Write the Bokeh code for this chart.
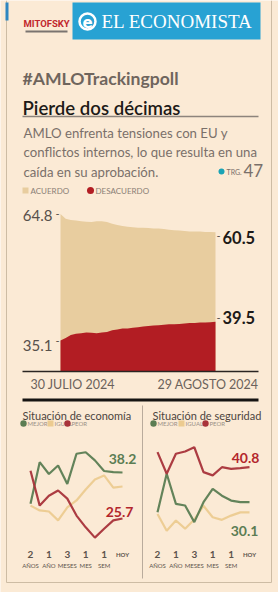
import pandas as pd
from bokeh.plotting import figure
from bokeh.models import Range1d, ColumnDataSource
from bokeh.core.properties import value
from bokeh.embed import file_html
from bokeh.resources import INLINE

# ---------------- data ----------------
DATES = pd.date_range("2024-07-30", "2024-08-29", freq="D")
ACUERDO = [64.8, 63.7, 63.4, 63.3, 63.1, 63.0, 62.9, 63.1, 63.1, 62.9,
           62.5, 62.2, 62.0, 61.8, 61.7, 61.6, 61.6, 61.5, 61.4, 61.4,
           61.3, 61.1, 61.0, 60.9, 60.8, 60.7, 60.7, 60.7, 60.6, 60.6, 60.5]
DESACUERDO = [35.1, 35.7, 36.4, 36.7, 36.8, 37.0, 36.9, 36.8, 37.0, 37.1,
              37.5, 37.7, 37.9, 37.9, 38.1, 38.2, 38.4, 38.5, 38.6, 38.7,
              38.8, 38.9, 38.9, 39.0, 39.1, 39.2, 39.2, 39.3, 39.3, 39.4, 39.5]
DATE_LABELS = ["30 JULIO 2024", "29 AGOSTO 2024"]

POINTS = list(range(11))
PERIOD_IDX = [0, 2, 4, 6, 8]
PERIOD_NUM = ["2", "1", "3", "1", "1"]
PERIOD_WORD = ["AÑOS", "AÑO", "MESES", "MES", "SEM"]
HOY_IDX = 10

ECO_MEJOR = [29.7, 41.0, 37.8, 40.1, 35.1, 43.3, 43.7, 41.5, 38.6, 38.3, 38.2]
ECO_IGUAL = [29.2, 27.9, 27.6, 25.2, 28.7, 30.6, 33.6, 36.3, 37.4, 34.1, 34.4]
ECO_PEOR = [38.7, 29.2, 31.9, 33.3, 31.1, 26.5, 23.3, 20.5, 22.9, 25.2, 25.7]
SEG_MEJOR = [27.0, 38.8, 29.6, 29.1, 24.0, 30.1, 34.2, 32.1, 30.6, 30.1, 30.1]
SEG_IGUAL = [26.5, 21.4, 24.5, 22.0, 24.8, 29.0, 25.5, 24.7, 26.0, 27.0, 27.0]
SEG_PEOR = [45.4, 38.8, 44.9, 45.6, 46.9, 39.3, 38.3, 40.8, 40.3, 40.5, 40.8]

# ---------------- style ----------------
BG = "#fbead5"
FRAME = "#cdbca4"
TAN = "#e8cd9f"
RED = "#b21d23"
GREEN = "#5b7d53"
YEL = "#eccb90"
LRED = "#a8333a"
GREY = "#6b625b"
DARK = "#1d1a18"
BLUE = "#28a2d3"
FONT = "Lato"

# page-pixel frame
PL, PR, PT, PB = 0, 278, 0, 592


def lin(v1, p1, v2, p2):
    k = (v2 - v1) / (p2 - p1)
    return lambda pp: v1 + (pp - p1) * k


p = figure(width=PR - PL, height=PB - PT,
           x_range=Range1d(PL, PR), y_range=Range1d(PB, PT),
           x_axis_type=None, y_axis_type=None,
           output_backend="svg", toolbar_location=None, min_border=0)
p.grid.visible = False
p.outline_line_color = None
p.background_fill_color = BG
p.border_fill_color = BG

# area chart scales
day = lin(0, 60, 30, 215)
p.extra_x_ranges["area_x"] = Range1d(DATES[0] + pd.Timedelta(days=day(PL)),
                                     DATES[0] + pd.Timedelta(days=day(PR)))
aval = lin(64.8, 213.5, 35.1, 340.0)
p.extra_y_ranges["area_y"] = Range1d(aval(PB), aval(PT))
BASE = aval(371)

# small multiples scales
ex = lin(0, 30, 10, 122)
ey = lin(38.2, 472, 25.7, 518)
sx = lin(0, 157, 10, 249)
sy = lin(40.8, 466.7, 30.1, 501.7)
p.extra_x_ranges["eco_x"] = Range1d(ex(PL), ex(PR))
p.extra_y_ranges["eco_y"] = Range1d(ey(PB), ey(PT))
p.extra_x_ranges["seg_x"] = Range1d(sx(PL), sx(PR))
p.extra_y_ranges["seg_y"] = Range1d(sy(PB), sy(PT))


def txt(x, y, s, size, color, font=FONT, style="normal", align="left",
        baseline="middle", **kw):
    n = max(len(v) if isinstance(v, list) else 1 for v in (x, y, s))
    xs = x if isinstance(x, list) else [x] * n
    ys = y if isinstance(y, list) else [y] * n
    ss = s if isinstance(s, list) else [s] * n
    p.text(x=xs, y=ys, text=ss, text_font=value(font),
           text_font_size=f"{size}px", text_color=color,
           text_font_style=style, text_align=align,
           text_baseline=baseline, **kw)


# ---------------- card frame ----------------
p.segment(x0=[6, 271, 6], y0=[0, 0, 582], x1=[6, 271, 271], y1=[582, 582, 582],
          line_color=FRAME, line_width=1)
p.quad(left=[5], right=[8], top=[2], bottom=[20], fill_color="#2e86c1",
       line_color=None)

# ---------------- header ----------------
txt(23, 23, "MITOFSKY", 9.5, "#c1272d", font="Roboto", style="bold")
p.segment(x0=[25], y0=[31], x1=[67], y1=[31], line_color="#7a7470", line_width=2)
p.quad(left=[72], right=[260], top=[2], bottom=[39], fill_color=BLUE,
       line_color=None)
p.circle(x=[87], y=[21], radius=8, fill_color=None, line_color="white",
         line_width=2.5)
txt(87, 21, "e", 15, "white", font="DejaVu Sans", style="bold", align="center")
txt(101, 21, "EL ECONOMISTA", 19, "white", font="Liberation Serif")

txt(22, 78, "#AMLOTrackingpoll", 17.6, "#6f655d", style="bold",
    baseline="alphabetic")
txt(22, 107, "Pierde dos décimas", 18.6, DARK, font="Lato Semibold, Lato",
    baseline="alphabetic")
p.segment(x0=[22], y0=[116], x1=[258], y1=[116], line_color="#8d847c",
          line_width=1.5)
txt(23, [132, 151, 171], ["AMLO enfrenta tensiones con EU y",
                          "conflictos internos, lo que resulta en una",
                          "caída en su aprobación."], 13.2, "#7a706a")
p.circle(x=[221], y=[171], radius=3, fill_color="#1aa3b5", line_color=None)
txt(226, 171, "TRG.", 7, "#7a706a")
txt(243, 170, "47", 17, "#7a706a")

# legend
p.quad(left=[22], right=[28], top=[187], bottom=[193], fill_color=TAN,
       line_color=None)
txt(30, 190, "ACUERDO", 8, "#8a7f76")
p.circle(x=[90], y=[190], radius=3.5, fill_color=RED, line_color=None)
txt(95, 190, "DESACUERDO", 8, "#8a7f76")

# ---------------- area chart ----------------
src = ColumnDataSource(dict(date=DATES, acuerdo=ACUERDO, desacuerdo=DESACUERDO))
p.varea(x="date", y1=BASE, y2="acuerdo", source=src, fill_color=TAN,
        x_range_name="area_x", y_range_name="area_y")
p.varea(x="date", y1=BASE, y2="desacuerdo", source=src, fill_color=RED,
        x_range_name="area_x", y_range_name="area_y")

AR = dict(x_range_name="area_x", y_range_name="area_y")
txt([DATES[0]] * 2, [ACUERDO[0], DESACUERDO[0]],
    [f"{ACUERDO[0]}", f"{DESACUERDO[0]}"], 15, "#57504b", align="right",
    x_offset=-8, y_offset=[1, 5], **AR)
txt([DATES[0]] * 2, [ACUERDO[0], DESACUERDO[0]], ["-", "-"], 11, "#57504b",
    align="right", x_offset=-1, **AR)
txt([DATES[-1]] * 2, [ACUERDO[-1], DESACUERDO[-1]],
    [f"{ACUERDO[-1]}", f"{DESACUERDO[-1]}"], 16.5, DARK, style="bold",
    x_offset=7, y_offset=[5, -4], **AR)
txt([DATES[-1]] * 2, [ACUERDO[-1], DESACUERDO[-1]], ["-", "-"], 11, "#57504b",
    x_offset=1, y_offset=[4, -4], **AR)
txt(DATES[0], BASE, DATE_LABELS[0], 12.5, GREY, x_offset=-30, y_offset=13, **AR)
txt(DATES[-1], BASE, DATE_LABELS[1], 12.5, GREY, align="right", x_offset=43,
    y_offset=13, **AR)
p.segment(x0=[22], y0=[371], x1=[258], y1=[371], line_color="#2a2522",
          line_width=1.5)
p.segment(x0=[22], y0=[399.5], x1=[258], y1=[399.5], line_color="#161412",
          line_width=3)

# ---------------- small multiples ----------------
p.segment(x0=[142], y0=[405], x1=[142], y1=[578], line_color="#b9ab9c",
          line_width=1)
for x0, title in [(22, "Situación de economía"), (152, "Situación de seguridad")]:
    txt(x0, 415, title, 11, "#4d4540")

for gx, tx, rx in [(23, 50, 67), (153, 181, 205)]:
    p.circle(x=[gx], y=[423], radius=3.2, fill_color=GREEN, line_color=None)
    txt(gx + 4, 423, "MEJOR", 6, "#9a8f86")
    p.quad(left=[tx - 3], right=[tx + 3], top=[420], bottom=[426],
           fill_color=YEL, line_color=None)
    txt(tx + 4, 423, "IGUAL", 6, "#9a8f86")
    p.circle(x=[rx], y=[423], radius=3.2, fill_color=LRED, line_color=None)
    txt(rx + 4, 423, "PEOR", 6, "#9a8f86")

for xr, yr, ig, me, pe in [("eco_x", "eco_y", ECO_IGUAL, ECO_MEJOR, ECO_PEOR),
                           ("seg_x", "seg_y", SEG_IGUAL, SEG_MEJOR, SEG_PEOR)]:
    for ys, col in [(ig, YEL), (me, GREEN), (pe, LRED)]:
        p.line(x=POINTS, y=ys, line_color=col, line_width=2.2, line_alpha=0.95,
               x_range_name=xr, y_range_name=yr)
    txt(PERIOD_IDX, 554, PERIOD_NUM, 10, "#5b534c", style="bold",
        align="center", x_range_name=xr)
    txt(PERIOD_IDX, 565, PERIOD_WORD, 6, "#5b534c", align="center",
        x_range_name=xr)
    txt(HOY_IDX, 554, "HOY", 6, "#5b534c", style="bold", align="center",
        x_range_name=xr)

ER = dict(x_range_name="eco_x", y_range_name="eco_y")
SR = dict(x_range_name="seg_x", y_range_name="seg_y")
txt(POINTS[-1], ECO_MEJOR[-1], f"{ECO_MEJOR[-1]}", 14, GREEN, style="bold",
    align="center", y_offset=-14, **ER)
txt(POINTS[-1], ECO_PEOR[-1], f"{ECO_PEOR[-1]}", 14, "#b3262c", style="bold",
    align="center", x_offset=-3, y_offset=-7, **ER)
txt(POINTS[-1], SEG_PEOR[-1], f"{SEG_PEOR[-1]}", 14, "#b3262c", style="bold",
    align="center", x_offset=-4, y_offset=-9, **SR)
txt(POINTS[-1], SEG_MEJOR[-1], f"{SEG_MEJOR[-1]}", 14, GREEN, style="bold",
    align="center", x_offset=-5, y_offset=29, **SR)

open("out.html", "w").write(file_html(p, INLINE))
